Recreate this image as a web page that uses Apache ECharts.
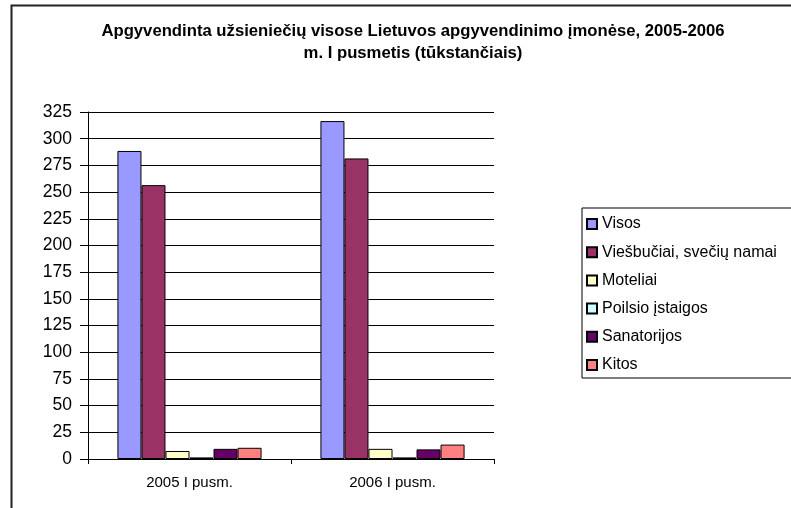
<!DOCTYPE html>
<html><head><meta charset="utf-8">
<script src="https://cdn.jsdelivr.net/npm/echarts@6/dist/echarts.min.js"></script>
<style>html,body{margin:0;padding:0;background:#fff}#c{width:791px;height:508px}</style>
</head><body><div id="c"></div>
<script>
const categories = ['2005 I pusm.', '2006 I pusm.'];
const seriesNames = ['Visos', 'Viešbučiai, svečių namai', 'Moteliai', 'Poilsio įstaigos', 'Sanatorijos', 'Kitos'];
const visos = [288.5, 316.5];
const viesbuciai = [256.5, 281.5];
const moteliai = [7.5, 9.5];
const poilsio = [1.5, 1.5];
const sanatorijos = [9.5, 9];
const kitos = [10.5, 13.5];
const colors = ['#9999FF', '#993366', '#FFFFCC', '#CCFFFF', '#660066', '#FF8080'];
const values = [visos, viesbuciai, moteliai, poilsio, sanatorijos, kitos];

const chart = echarts.init(document.getElementById('c'), null, {renderer: 'canvas'});
chart.setOption({
  animation: false,
  backgroundColor: '#fff',
  textStyle: {fontFamily: 'Liberation Sans, Arial, sans-serif'},
  title: {
    text: 'Apgyvendinta užsieniečių visose Lietuvos apgyvendinimo įmonėse, 2005-2006\nm. I pusmetis (tūkstančiais)',
    left: 408, top: 15, textAlign: 'center',
    textStyle: {fontSize: 16.7, fontWeight: 'bold', color: '#000', lineHeight: 22, fontFamily: 'Liberation Sans, Arial, sans-serif'}
  },
  graphic: [{
    type: 'rect', shape: {x: 11.5, y: 5.5, width: 900, height: 600},
    style: {fill: 'none', stroke: '#222', lineWidth: 2}, silent: true
  }],
  legend: {
    orient: 'vertical', left: 582, top: 208,
    padding: [8, 40, 5, 4],
    itemGap: 12.2, itemWidth: 10, itemHeight: 10,
    borderColor: '#000', borderWidth: 1, borderRadius: 0,
    backgroundColor: '#fff',
    textStyle: {fontSize: 16, color: '#000', lineHeight: 16},
    data: seriesNames,
    icon: 'rect'
  },
  grid: {left: 88, right: 297, top: 112, bottom: 49},
  xAxis: {
    type: 'category', data: categories,
    axisLine: {lineStyle: {color: '#000', width: 1}},
    axisTick: {show: true, alignWithLabel: false, length: 5, lineStyle: {color: '#000'}},
    axisLabel: {fontSize: 15, color: '#000', margin: 16},
    splitLine: {show: false}
  },
  yAxis: {
    type: 'value', min: 0, max: 325, interval: 25,
    axisLine: {show: true, lineStyle: {color: '#000', width: 1}},
    axisTick: {show: true, inside: false, length: 8, lineStyle: {color: '#000'}},
    axisLabel: {fontSize: 17.5, color: '#000', margin: 16},
    splitLine: {show: true, lineStyle: {color: '#000', width: 1}}
  },
  series: seriesNames.map((n, i) => ({
    name: n, type: 'bar', data: values[i],
    barGap: '0%', barCategoryGap: '29%',
    itemStyle: {color: colors[i], borderColor: '#000', borderWidth: 1}
  }))
});
</script></body></html>
